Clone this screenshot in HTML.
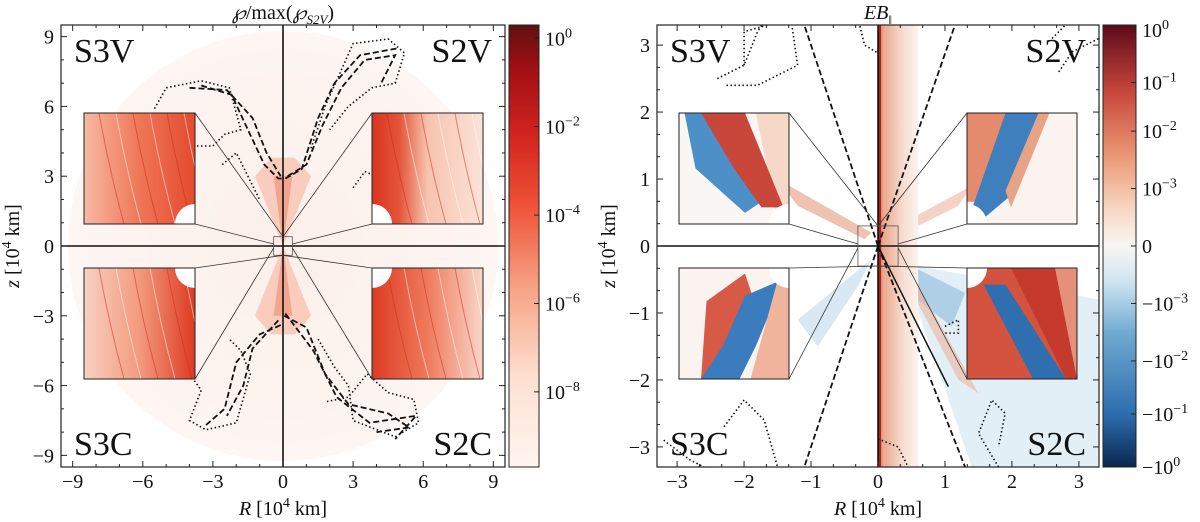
<!DOCTYPE html>
<html><head><meta charset="utf-8"><style>
html,body{margin:0;padding:0;background:#fff;}
svg{display:block;}
svg text{font-family:"Liberation Serif","DejaVu Serif",serif;}
</style></head><body>
<svg id="fig" width="1200" height="522" viewBox="0 0 1200 522" xmlns="http://www.w3.org/2000/svg" font-family="Liberation Serif, serif">
<defs>
<linearGradient id="reds" x1="0" y1="1" x2="0" y2="0">
<stop offset="0" stop-color="#fff5f0"/><stop offset="0.2" stop-color="#fde0d2"/><stop offset="0.4" stop-color="#f7a487"/><stop offset="0.6" stop-color="#ee4f35"/><stop offset="0.75" stop-color="#d3241f"/><stop offset="0.9" stop-color="#a10f15"/><stop offset="1" stop-color="#5f1010"/></linearGradient>
<linearGradient id="rdbu" x1="0" y1="1" x2="0" y2="0">
<stop offset="0" stop-color="#08274f"/><stop offset="0.12" stop-color="#2d6eb0"/><stop offset="0.3" stop-color="#6ea9d0"/><stop offset="0.42" stop-color="#cfe5f0"/><stop offset="0.5" stop-color="#f8f6f4"/><stop offset="0.58" stop-color="#f8d8c4"/><stop offset="0.7" stop-color="#eb9a77"/><stop offset="0.85" stop-color="#c7463b"/><stop offset="1" stop-color="#5c0a1a"/></linearGradient>
<radialGradient id="disk" cx="0.5" cy="0.5" r="0.5"><stop offset="0" stop-color="#fcefea"/><stop offset="1" stop-color="#fdf6f3"/></radialGradient>
<linearGradient id="in1" x1="0" y1="0" x2="1" y2="0"><stop offset="0" stop-color="#f7b9a3"/><stop offset="0.5" stop-color="#ef7656"/><stop offset="1" stop-color="#e34a2e"/></linearGradient>
<linearGradient id="in2" x1="0" y1="0" x2="1" y2="0"><stop offset="0" stop-color="#d9341f"/><stop offset="0.25" stop-color="#e4563a"/><stop offset="0.5" stop-color="#f7c3ae"/><stop offset="1" stop-color="#fbe3d8"/></linearGradient>
<linearGradient id="in3" x1="0" y1="0" x2="1" y2="0"><stop offset="0" stop-color="#f8d0c1"/><stop offset="0.5" stop-color="#f39a7d"/><stop offset="1" stop-color="#dd3a22"/></linearGradient>
<linearGradient id="in4" x1="0" y1="0" x2="1" y2="0"><stop offset="0" stop-color="#dc3b22"/><stop offset="0.5" stop-color="#ef7a5c"/><stop offset="1" stop-color="#f9d6c8"/></linearGradient>
<linearGradient id="stripe" x1="0" y1="0" x2="1" y2="0"><stop offset="0" stop-color="#c9553f"/><stop offset="0.12" stop-color="#eaa68a"/><stop offset="0.6" stop-color="#f6dccf"/><stop offset="1" stop-color="#fbf3ef"/></linearGradient>
</defs>
<g id="root"></g>
</svg>
<script>
// ---- data ----
const leftTicks = [-9,-6,-3,0,3,6,9];
const rightTicks = [-3,-2,-1,0,1,2,3];
const leftCbarLabels = ["10^0","10^-2","10^-4","10^-6","10^-8"];
const leftCbarExp = [0,-2,-4,-6,-8];
const rightCbarLabels = ["10^0","10^-1","10^-2","10^-3","0","-10^-3","-10^-2","-10^-1","-10^0"];
const rightCbarPos = [1,0.87,0.76,0.63,0.5,0.37,0.24,0.12,0];
const quadLabels = ["S3V","S2V","S3C","S2C"];
const leftDashed = [
 [[-3.5,6.9],[-2.2,6.5],[-1.5,5],[-0.8,3.5],[-0.2,2.9],[-0.05,2.9]],
 [[-4,6.8],[-2.4,6.7],[-1.3,5.5],[-0.7,4],[-0.1,3]],
 [[0.2,3],[1,3.5],[1.7,5.2],[2.5,6.8],[3.5,8],[4.8,8.2],[4.2,7]],
 [[0.1,2.9],[0.8,3.3],[1.5,5.5],[2.2,7],[3.3,8.2],[4.9,8.5]],
 [[0.05,-3],[1,-3.5],[1.8,-5.5],[2.8,-6.8],[4.5,-7.2],[5.4,-7.8],[4,-8]],
 [[0.1,-2.9],[1.3,-4.5],[2.3,-6.5],[3.7,-7.6],[5.7,-7.3],[4.8,-8.3]],
 [[-0.1,-3.4],[-1,-3.8],[-2,-5],[-2.5,-7],[-3.3,-7.7]],
 [[-0.2,-3.2],[-1.3,-4.4],[-1.7,-6],[-2.4,-7.3]]
];
const leftDotted = [
 [[-5.5,5.9],[-5,6.8],[-3.5,7.1],[-2.3,6.8],[-1.8,5],[-2.5,4.8],[-3,4.3],[-4.3,4.3]],
 [[-2.6,3.5],[-2,4],[-1.5,3],[-1,2]],
 [[1.2,4.2],[1.8,6],[3,8.7],[4.5,8.9],[5.2,8.3],[4.8,7],[3.8,6.8],[2.8,6],[2,5]],
 [[3,2.5],[3.5,3.2],[4,3],[4.5,2]],
 [[-4.2,-4.5],[-4,-5.5],[-3.5,-6.2],[-4,-7.5],[-3.3,-7.9],[-2,-7.6],[-1.4,-5.5],[-1.8,-4.5],[-2.3,-4]],
 [[1.5,-4],[2.2,-5.2],[2.8,-6],[3,-7.5],[4.8,-8.2],[5.8,-7.6],[5.6,-6.6],[4.5,-6.3],[3.6,-5.5],[2.8,-6.5],[1.8,-6.7]]
];
const rightDashed = [[[0,0],[-1.1,3.3]],[[0,0],[1.15,3.3]],[[0,0],[-1.1,-3.3]],[[0,0],[1.3,-3.3]]];
const rightDotted = [
 [[-2.4,2.5],[-2,2.7],[-1.8,3.2],[-1.6,3.5]],
 [[-2,2.7],[-2,3.2],[-1.3,3.4],[-1.2,2.7],[-1.8,2.4],[-2.3,2.4]],
 [[2.7,2.6],[2.9,2.9],[3.3,3.1]],
 [[2.6,3.1],[2.9,3.4],[3.3,3.6]],
 [[-2.3,-2.7],[-2,-2.3],[-1.7,-2.6],[-1.5,-3.3]],
 [[-3.2,-2.9],[-2.8,-3.2],[-2.6,-3.3]],
 [[1.8,-3.3],[1.5,-2.8],[1.7,-2.3],[1.9,-2.5],[1.8,-3]],
 [[1.0,-1.2],[1.2,-1.1],[1.2,-1.3],[1.0,-1.3]],
 [[-0.3,3.4],[-0.2,3.0],[0,2.88]],
 [[0,-2.88],[0.3,-3.0],[0.45,-3.3]]
];

const NS="http://www.w3.org/2000/svg";
const root=document.getElementById('root');
const FF='Liberation Serif, serif';
function mk(tag,attrs,parent){const e=document.createElementNS(NS,tag);for(const k in attrs)e.setAttribute(k,attrs[k]);(parent||root).appendChild(e);return e;}
function sup(t,x,y,size,anchor,parent,name){
  const m=t.split('^');const tx=mk('text',{x:x,y:y,'font-size':size,'text-anchor':anchor,fill:'#111','font-family':FF},parent);
  
  
  const base=m[0].replace('-','\u2212');
  tx.appendChild(document.createTextNode(base));
  if(m[1]){const ts=mk('tspan',{dy:-8,'font-size':size*0.7},tx);ts.textContent=m[1].replace('-','\u2212');}
  return tx;
}

function panel(o){
  const g=mk('g',{});
  
  
  const X=v=>o.x0+(v-o.min)/(o.max-o.min)*(o.x1-o.x0);
  const Y=v=>o.y1-(v-o.min)/(o.max-o.min)*(o.y1-o.y0);
  const P=pts=>pts.map((p,i)=>(i?'L':'M')+X(p[0]).toFixed(1)+' '+Y(p[1]).toFixed(1)).join(' ');
  const clip=mk('clipPath',{id:o.name+'-clip'},g);
  mk('rect',{x:o.x0,y:o.y0,width:o.x1-o.x0,height:o.y1-o.y0},clip);
  const body=mk('g',{'clip-path':'url(#'+o.name+'-clip)'},g);
  mk('rect',{x:o.x0,y:o.y0,width:o.x1-o.x0,height:o.y1-o.y0,fill:'#fff'},body);
  o.draw(body,X,Y,P);
  o.dashed.forEach(c=>{const p=mk('path',{d:P(c),fill:'none',stroke:'#111','stroke-width':1.8,'stroke-dasharray':'6,3'},body);});
  o.dotted.forEach(c=>{const p=mk('path',{d:P(c),fill:'none',stroke:'#111','stroke-width':1.6,'stroke-dasharray':'1.5,2.5'},body);});
  mk('line',{x1:X(0),x2:X(0),y1:o.y0,y2:o.y1,stroke:'#111','stroke-width':1.6},body);
  mk('line',{x1:o.x0,x2:o.x1,y1:Y(0),y2:Y(0),stroke:'#111','stroke-width':1.6},body);
  const bx=o.box;
  mk('rect',{x:X(-bx),y:Y(bx*o.boxr),width:X(bx)-X(-bx),height:Y(-bx*o.boxr)-Y(bx*o.boxr),fill:'none',stroke:'#555','stroke-width':0.8},body);
  o.insets.forEach((r,i)=>{
    const [ix0,iy0,ix1,iy1]=r;
    const left=i%2===0, top=i<2;
    const bxX=left?X(-bx):X(bx);
    const cy1=Y(bx*o.boxr), cy2=Y(-bx*o.boxr);
    const ex=left?ix1:ix0;
    mk('line',{x1:ex,y1:iy0,x2:X(0),y2:top?cy1:cy2,stroke:'#333','stroke-width':0.8},body);
    mk('line',{x1:ex,y1:iy1,x2:bxX,y2:Y(0)+(top?-2:2),stroke:'#333','stroke-width':0.8},body);
    const ig=mk('g',{},body);
    
    
    const cid=o.name+'-ic'+i;const cp=mk('clipPath',{id:cid},ig);mk('rect',{x:ix0,y:iy0,width:ix1-ix0,height:iy1-iy0},cp);
    const ic=mk('g',{'clip-path':'url(#'+cid+')'},ig);
    o.inset(ic,i,ix0,iy0,ix1,iy1);
    const cx=left?ix1:ix0, cy=top?iy1:iy0;
    mk('circle',{cx:cx,cy:cy,r:20,fill:'#fff'},ic);
    mk('rect',{x:ix0,y:iy0,width:ix1-ix0,height:iy1-iy0,fill:'none',stroke:'#222','stroke-width':1},ig);
  });
  mk('rect',{x:o.x0,y:o.y0,width:o.x1-o.x0,height:o.y1-o.y0,fill:'none',stroke:'#222','stroke-width':1.2},g);
  const step=(o.ticks[1]-o.ticks[0])/3;
  for(let v=o.min+((o.ticks[0]-o.min)%step);v<=o.max+1e-9;v+=step){
    const major=o.ticks.some(t=>Math.abs(t-v)<1e-6);const L=major?6:3;
    mk('line',{x1:X(v),x2:X(v),y1:o.y1,y2:o.y1-L,stroke:'#222'},g);
    mk('line',{x1:X(v),x2:X(v),y1:o.y0,y2:o.y0+L,stroke:'#222'},g);
    mk('line',{x1:o.x0,x2:o.x0+L,y1:Y(v),y2:Y(v),stroke:'#222'},g);
    mk('line',{x1:o.x1,x2:o.x1-L,y1:Y(v),y2:Y(v),stroke:'#222'},g);
  }
  o.ticks.forEach(t=>{
    const s=String(t).replace('-','\u2212');
    const a=mk('text',{x:X(t),y:o.y1+21,'font-size':20,'text-anchor':'middle',fill:'#111','font-family':FF},g);a.textContent=s;
    
    
    const b=mk('text',{x:o.x0-7,y:Y(t)+7,'font-size':20,'text-anchor':'end',fill:'#111','font-family':FF},g);b.textContent=s;
    
    
  });
  const qp=[[o.x0+13,o.y0+37,'start'],[o.x1-13,o.y0+37,'end'],[o.x0+13,o.y1-12,'start'],[o.x1-13,o.y1-12,'end']];
  quadLabels.forEach((q,i)=>{const t=mk('text',{x:qp[i][0],y:qp[i][1],'font-size':34,'text-anchor':qp[i][2],fill:'#111','font-family':FF},g);t.textContent=q;
    
    });
  const xt=mk('text',{x:(o.x0+o.x1)/2,y:515,'font-size':20,'text-anchor':'middle',fill:'#111','font-family':FF},g);
  
  
  xt.innerHTML='<tspan font-style="italic">R</tspan> [10<tspan dy="-8" font-size="14">4</tspan><tspan dy="8"> km]</tspan>';
  const yt=mk('text',{x:0,y:0,'font-size':20,'text-anchor':'middle',fill:'#111','font-family':FF,transform:'translate('+(o.x0-42)+','+((o.y0+o.y1)/2)+') rotate(-90)'},g);
  
  
  yt.innerHTML='<tspan font-style="italic">z</tspan> [10<tspan dy="-8" font-size="14">4</tspan><tspan dy="8"> km]</tspan>';
  const tt=mk('text',{x:X(0),y:19,'font-size':20,'text-anchor':'middle',fill:'#111','font-family':FF},g);
  
  
  tt.innerHTML=o.title;
  const cb=mk('g',{},g);
  
  
  mk('rect',{x:o.cb[0],y:o.y0,width:o.cb[1]-o.cb[0],height:o.y1-o.y0,fill:o.cbFill,stroke:'#222','stroke-width':1},cb);
  o.cbLabels.forEach((l,i)=>{
    const y=o.y1-o.cbPos[i]*(o.y1-o.y0);
    mk('line',{x1:o.cb[1],x2:o.cb[1]-5,y1:y,y2:y,stroke:'#222'},cb);
    sup(l,o.cb[1]+6,Math.max(y+7,o.y0+12),20,'start',cb,'colorbar-tick-label');
  });
}

panel({name:'power-panel',x0:61,x1:505,y0:25,y1:467,min:-9.5,max:9.5,ticks:leftTicks,box:0.4,boxr:1,
 title:'<tspan font-style="italic">\u2118</tspan>/max(<tspan font-style="italic">\u2118</tspan><tspan font-size="13" dy="5" font-style="italic">S2V</tspan><tspan dy="-5">)</tspan>',
 dashed:leftDashed,dotted:leftDotted,cb:[509,539],cbFill:'url(#reds)',
 cbLabels:leftCbarLabels,cbPos:leftCbarExp.map(e=>(e+9.7)/10),
 insets:[[84,113,195,224],[372,113,483,224],[84,268,195,379],[372,268,483,379]],
 draw:(b,X,Y,P)=>{
  mk('circle',{cx:X(0),cy:Y(0),r:X(9.2)-X(0),fill:'url(#disk)'},b);
  mk('path',{d:P([[0,0],[-1.2,3],[-0.5,3.8],[0.5,3.8],[1.2,3]])+'Z',fill:'#f7c3b2',opacity:0.8},b);
  mk('path',{d:P([[0,0],[-1.2,-3],[-0.5,-3.8],[0.5,-3.8],[1.2,-3]])+'Z',fill:'#f7c3b2',opacity:0.8},b);
  mk('path',{d:P([[0,0],[-0.4,3],[0.4,3]])+'Z',fill:'#f09a7f',opacity:0.8},b);
  mk('path',{d:P([[0,0],[-0.4,-3],[0.4,-3]])+'Z',fill:'#f09a7f',opacity:0.8},b);
 },
 inset:(g,i,x0,y0,x1,y1)=>{
  mk('rect',{x:x0,y:y0,width:x1-x0,height:y1-y0,fill:'url(#in'+(i+1)+')'},g);
  for(let k=0;k<6;k++){const xs=x0+15+k*17;mk('path',{d:'M'+xs+' '+y0+' Q'+(xs+10)+' '+((y0+y1)/2)+' '+(xs+25)+' '+y1,fill:'none',stroke:k%2?'#fff':'#c92a1c','stroke-width':1,opacity:0.5},g);}
 }
});

panel({name:'eb-panel',x0:657,x1:1099,y0:25,y1:467,min:-3.3,max:3.3,ticks:rightTicks,box:0.3,boxr:1,
 title:'<tspan font-style="italic">EB</tspan><tspan font-size="13" dy="5">\u2016</tspan>',
 dashed:rightDashed,dotted:rightDotted,cb:[1103,1136],cbFill:'url(#rdbu)',
 cbLabels:rightCbarLabels,cbPos:rightCbarPos,
 insets:[[679,113,789,224],[967,113,1077,224],[679,268,789,379],[967,268,1077,379]],
 draw:(b,X,Y,P)=>{
  mk('path',{d:P([[0.6,-0.3],[3.3,-0.8],[3.3,-3.3],[1.4,-3.3],[0.4,-0.4]])+'Z',fill:'#dcebf4',opacity:0.8},b);
  mk('path',{d:P([[0.1,-0.1],[1.3,-0.7],[1.1,-1.2],[0.2,-0.5]])+'Z',fill:'#8bb9dc',opacity:0.6},b);
  mk('path',{d:P([[-0.1,0.2],[-1.5,1],[-1.2,0.6],[-0.2,0.1]])+'Z',fill:'#e9a891',opacity:0.7},b);
  mk('path',{d:P([[0.1,0.2],[1.4,0.9],[1.2,0.6],[0.2,0.1]])+'Z',fill:'#efbfad',opacity:0.7},b);
  mk('path',{d:P([[-0.1,-0.2],[-1.2,-1.1],[-0.9,-1.5],[-0.3,-0.6]])+'Z',fill:'#cfe2ef',opacity:0.8},b);
  mk('path',{d:P([[0.3,-0.3],[1.2,-2],[1.5,-2.2],[0.5,-0.4]])+'Z',fill:'#efb29c',opacity:0.6},b);
  mk('rect',{x:X(0),y:Y(3.3),width:X(0.6)-X(0),height:Y(-3.3)-Y(3.3),fill:'url(#stripe)'},b);
  mk('rect',{x:X(0),y:Y(3.3),width:3,height:Y(-3.3)-Y(3.3),fill:'#a8231f'},b);
  mk('line',{x1:X(0),y1:Y(0),x2:X(1.05),y2:Y(-2.1),stroke:'#111','stroke-width':1.5},b);
 },
 inset:(g,i,x0,y0,x1,y1)=>{
  const w=x1-x0,h=y1-y0;
  const R=(pts,f)=>mk('path',{d:pts.map((p,k)=>(k?'L':'M')+(x0+p[0]*w)+' '+(y0+p[1]*h)).join(' ')+'Z',fill:f},g);
  if(i===0){R([[0,0],[1,0],[1,1],[0,1]],'#f9f6f4');R([[0.7,0],[1,0],[1,1],[0.9,1]],'#f6d8c8');
    R([[0.05,0],[0.35,0],[0.75,0.8],[0.6,0.9],[0.15,0.5]],'#4d8fc7');R([[0.2,0],[0.6,0],[0.95,0.85],[0.75,0.85],[0.5,0.5]],'#c9463a');}
  if(i===1){R([[0,0],[1,0],[1,1],[0,1]],'#fbf3ef');R([[0,0],[0.35,0],[0.1,0.8],[0,0.8]],'#e48a6d');
    R([[0.35,0],[0.65,0],[0.45,0.7],[0.15,0.95],[0.05,0.85]],'#3f7fbd');R([[0.65,0],[0.75,0],[0.4,0.85],[0.35,0.7]],'#e6a386');}
  if(i===2){R([[0,0],[1,0],[1,1],[0,1]],'#fbf3ef');R([[0.25,0.3],[0.6,0.05],[0.75,0.5],[0.3,1],[0.2,1]],'#d65a45');
    R([[0.6,0.25],[0.95,0.1],[0.7,0.7],[0.55,1],[0.2,1],[0.4,0.7]],'#3a7cbd');R([[0.9,0.1],[1,0.1],[1,1],[0.65,1]],'#f0b39b');}
  if(i===3){R([[0,0],[1,0],[1,1],[0,1]],'#d4533f');R([[0.15,0.15],[0.35,0.15],[0.9,1],[0.6,1]],'#2f6fb0');
    R([[0.4,0],[1,0],[1,1],[0.9,1]],'#c43a2c');R([[0.8,0],[1,0],[1,1]],'#e59079');}
 }
});
</script>
</body></html>
